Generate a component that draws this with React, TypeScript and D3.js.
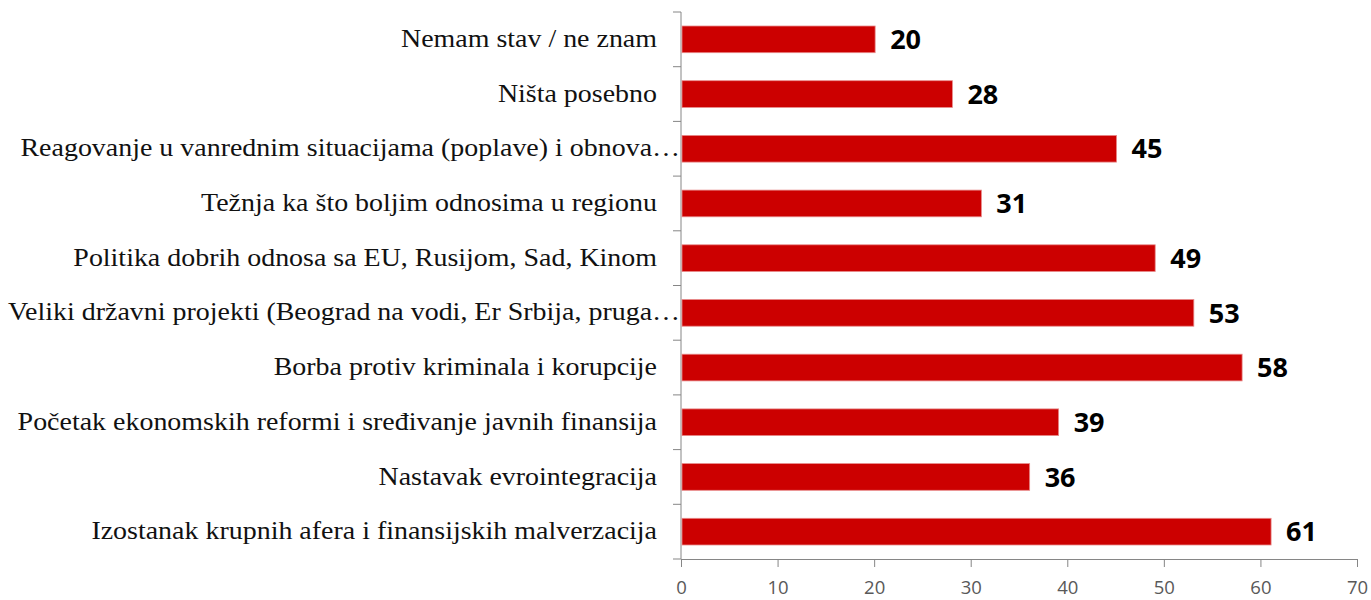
import React, { useEffect, useRef } from 'react';
import * as d3 from 'd3';

// top to bottom, as in the chart
const categories = [
	'Nemam stav / ne znam',
	'Ništa posebno',
	'Reagovanje u vanrednim situacijama (poplave) i obnova…',
	'Težnja ka što boljim odnosima u regionu',
	'Politika dobrih odnosa sa EU, Rusijom, Sad, Kinom',
	'Veliki državni projekti (Beograd na vodi, Er Srbija, pruga…',
	'Borba protiv kriminala i korupcije',
	'Početak ekonomskih reformi i sređivanje javnih finansija',
	'Nastavak evrointegracija',
	'Izostanak krupnih afera i finansijskih malverzacija',
];
const values = [20, 28, 45, 31, 49, 53, 58, 39, 36, 61];
const xTicks = [0, 10, 20, 30, 40, 50, 60, 70];

const width = 1371;
const height = 600;
const margin = { top: 12, right: 14, bottom: 41, left: 681 };

export default function App() {
	const ref = useRef<SVGSVGElement>(null);

	useEffect(() => {
		const svg = d3.select(ref.current);
		svg.selectAll('*').remove();

		const data = categories.map((c, i) => ({ c, v: values[i] }));
		const x = d3.scaleLinear().domain([0, 70]).range([margin.left, width - margin.right]);
		const y = d3
			.scaleBand()
			.domain(categories)
			.range([margin.top, height - margin.bottom])
			.paddingInner(0.512)
			.paddingOuter(0.256);
		const axisColor = '#868686';

		// category ticks + y axis line
		const step = y.step();
		const yTickPos = d3.range(categories.length + 1).map(i => margin.top + i * step);
		svg.append('g')
			.selectAll('line')
			.data(yTickPos)
			.enter()
			.append('line')
			.attr('x1', margin.left - 8)
			.attr('x2', margin.left)
			.attr('y1', d => d)
			.attr('y2', d => d)
			.attr('stroke', axisColor);
		svg.append('line')
			.attr('x1', margin.left)
			.attr('x2', margin.left)
			.attr('y1', margin.top)
			.attr('y2', height - margin.bottom)
			.attr('stroke', axisColor);

		// x axis
		const xAxis = d3.axisBottom(x).tickValues(xTicks).tickSize(8).tickPadding(14);
		const gx = svg
			.append('g')
			.attr('transform', `translate(0,${height - margin.bottom})`)
			.call(xAxis);
		gx.select('.domain').attr('stroke', axisColor);
		gx.selectAll('.tick line').attr('stroke', axisColor);
		gx.selectAll('.tick text')
			.attr('fill', '#595959')
			.style('font', '18.5px "Open Sans", sans-serif');

		// bars
		svg.append('g')
			.selectAll('rect')
			.data(data)
			.enter()
			.append('rect')
			.attr('x', x(0) + 1)
			.attr('y', d => y(d.c)!)
			.attr('width', d => x(d.v) - x(0))
			.attr('height', y.bandwidth())
			.attr('fill', '#cc0000')
			.attr('stroke', '#e88a8a')
			.attr('stroke-width', 0.8);

		// value labels
		svg.append('g')
			.selectAll('text')
			.data(data)
			.enter()
			.append('text')
			.attr('x', d => x(d.v) + 16)
			.attr('y', d => y(d.c)! + y.bandwidth() / 2 + 9.7)
			.attr('fill', '#000')
			.style('font', 'bold 27px "Open Sans", sans-serif')
			.text(d => d.v);

		// category labels (truncated ones run up to the axis), a bit wider than plain Times
		svg.append('g')
			.selectAll('text')
			.data(data)
			.enter()
			.append('text')
			.attr('transform', d => {
				const tx = d.c.endsWith('…') ? margin.left - 1 : margin.left - 24;
				const ty = y(d.c)! + y.bandwidth() / 2 + 7.6;
				return `translate(${tx},${ty}) scale(1.075,1)`;
			})
			.attr('text-anchor', 'end')
			.attr('fill', '#111')
			.style('font', '26px "Liberation Serif", "Times New Roman", serif')
			.text(d => d.c);
	}, []);

	return (
		<svg
			ref={ref}
			width={width}
			height={height}
			style={{ position: 'absolute', left: 0, top: 0, background: '#fff' }}
		/>
	);
}
